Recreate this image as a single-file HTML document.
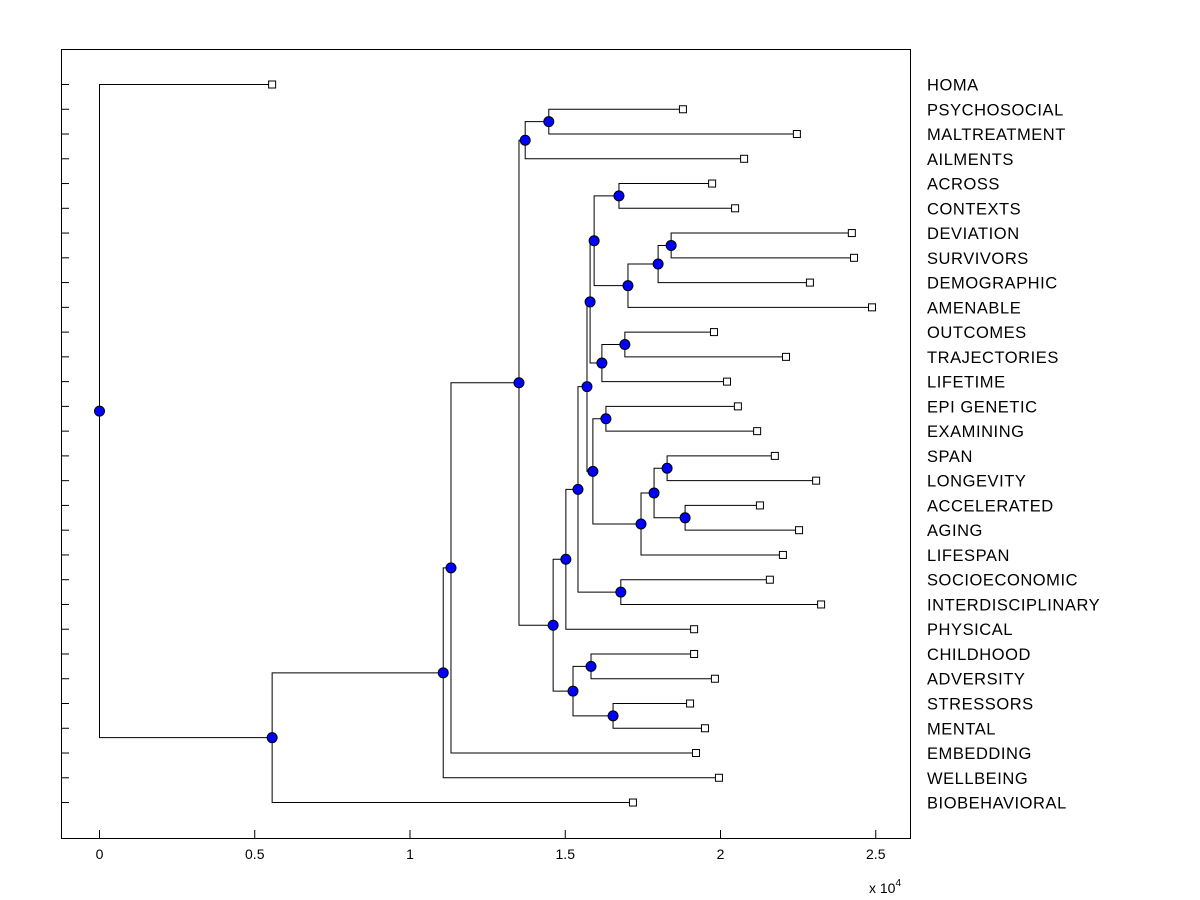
<!DOCTYPE html>
<html><head><meta charset="utf-8"><style>
html,body{margin:0;padding:0;background:#fff;}
svg{display:block;font-family:"Liberation Sans",Arial,sans-serif;}
</style></head><body>
<svg id="chart" width="1200" height="900" viewBox="0 0 1200 900" xmlns="http://www.w3.org/2000/svg">
<rect x="0" y="0" width="1200" height="900" fill="#fff"/>
<rect x="61.5" y="49.5" width="849" height="789" fill="none" stroke="#000" stroke-width="1"/>
<g id="axes"></g>
<g id="links"></g>
<g id="marks"></g>
<g id="labels"></g>
</svg>
<script>
const leafNames=["HOMA","PSYCHOSOCIAL","MALTREATMENT","AILMENTS","ACROSS","CONTEXTS","DEVIATION","SURVIVORS","DEMOGRAPHIC","AMENABLE","OUTCOMES","TRAJECTORIES","LIFETIME","EPI GENETIC","EXAMINING","SPAN","LONGEVITY","ACCELERATED","AGING","LIFESPAN","SOCIOECONOMIC","INTERDISCIPLINARY","PHYSICAL","CHILDHOOD","ADVERSITY","STRESSORS","MENTAL","EMBEDDING","WELLBEING","BIOBEHAVIORAL"];
const leafValues=[0.556,1.879,2.246,2.076,1.973,2.047,2.423,2.430,2.288,2.488,1.979,2.211,2.021,2.056,2.118,2.175,2.308,2.127,2.253,2.201,2.159,2.324,1.915,1.915,1.982,1.902,1.950,1.921,1.995,1.718];
// internal nodes: [id, height, leftChild, rightChild]; children are leaf indices (numbers) or node ids (strings)
const nodeIds=["G","E","S","V","U","T","Q","W","R","O","X","AA","AB","Z","Y","P","M","N","L","H","J","K","I","F","D","C","B","A","root"];
const nodeHeights=[1.447,1.371,1.673,1.841,1.799,1.702,1.593,1.692,1.618,1.580,1.631,1.828,1.886,1.786,1.744,1.589,1.570,1.679,1.541,1.502,1.583,1.654,1.525,1.461,1.351,1.132,1.107,0.556,0];
const nodeLeft=[1,"G",4,6,"V",  "U","S",10,"W","Q",13,15,17,"AA","Z","X","O",20,"M","L",23,25,"J","H","E","D","C","B",0];
const nodeRight=[2,3,5,7,8,     9,"T",11,12,"R",14,16,18,"AB",19,"Y","P",21,"N",22,24,26,"K","I","F",27,28,29,"A"];
const xTicks=[0,0.5,1,1.5,2,2.5];
const xTickLabels=["0","0.5","1","1.5","2","2.5"];

const NS="http://www.w3.org/2000/svg";
const X0=99.5, XS=310.5, Y0=84.5, YS=24.76;
const xs=v=>X0+v*XS;
const ys=i=>Y0+i*YS;
function mk(tag,attrs,parent){const e=document.createElementNS(NS,tag);for(const k in attrs)e.setAttribute(k,attrs[k]);document.getElementById(parent).appendChild(e);return e;}

xTicks.forEach((t,i)=>{
  const l=mk("line",{x1:xs(t),x2:xs(t),y1:838,y2:830,stroke:"#000"},"axes");
  
  
  const tx=mk("text",{x:xs(t),y:859,"font-size":"14","text-anchor":"middle"},"axes");
  tx.textContent=xTickLabels[i];
  
  
});
const ex=mk("text",{x:869,y:893,"font-size":"14"},"axes");
ex.innerHTML='x 10<tspan dy="-7" font-size="10">4</tspan>';



leafNames.forEach((n,i)=>{
  const tk=mk("line",{x1:61,x2:69,y1:ys(i),y2:ys(i),stroke:"#000"},"axes");
  
  
  const lb=mk("text",{x:927,y:ys(i)+6,"font-size":"16.5","letter-spacing":"0.55"},"labels");
  lb.textContent=n;
  
  
});

const pos={};
leafValues.forEach((v,i)=>{pos[i]={x:xs(v),y:ys(i)};});
function get(c){return pos[c];}
nodeIds.forEach((id,k)=>{
  const a=get(nodeLeft[k]), b=get(nodeRight[k]);
  pos[id]={x:xs(nodeHeights[k]),y:(a.y+b.y)/2};
});
nodeIds.forEach((id,k)=>{
  const p=pos[id], a=get(nodeLeft[k]), b=get(nodeRight[k]);
  const path=mk("path",{d:`M${a.x},${a.y}H${p.x}V${b.y}H${b.x}`,fill:"none",stroke:"#000","stroke-width":"1"},"links");
  
  
});
leafValues.forEach((v,i)=>{
  const r=mk("rect",{x:xs(v)-3.5,y:ys(i)-3.5,width:7,height:7,fill:"#fff",stroke:"#000"},"marks");
  
  
});
nodeIds.forEach(id=>{
  const c=mk("circle",{cx:pos[id].x,cy:pos[id].y,r:5,fill:"#0000ff",stroke:"#000","stroke-width":"1"},"marks");
  
  
});
</script>
</body></html>
